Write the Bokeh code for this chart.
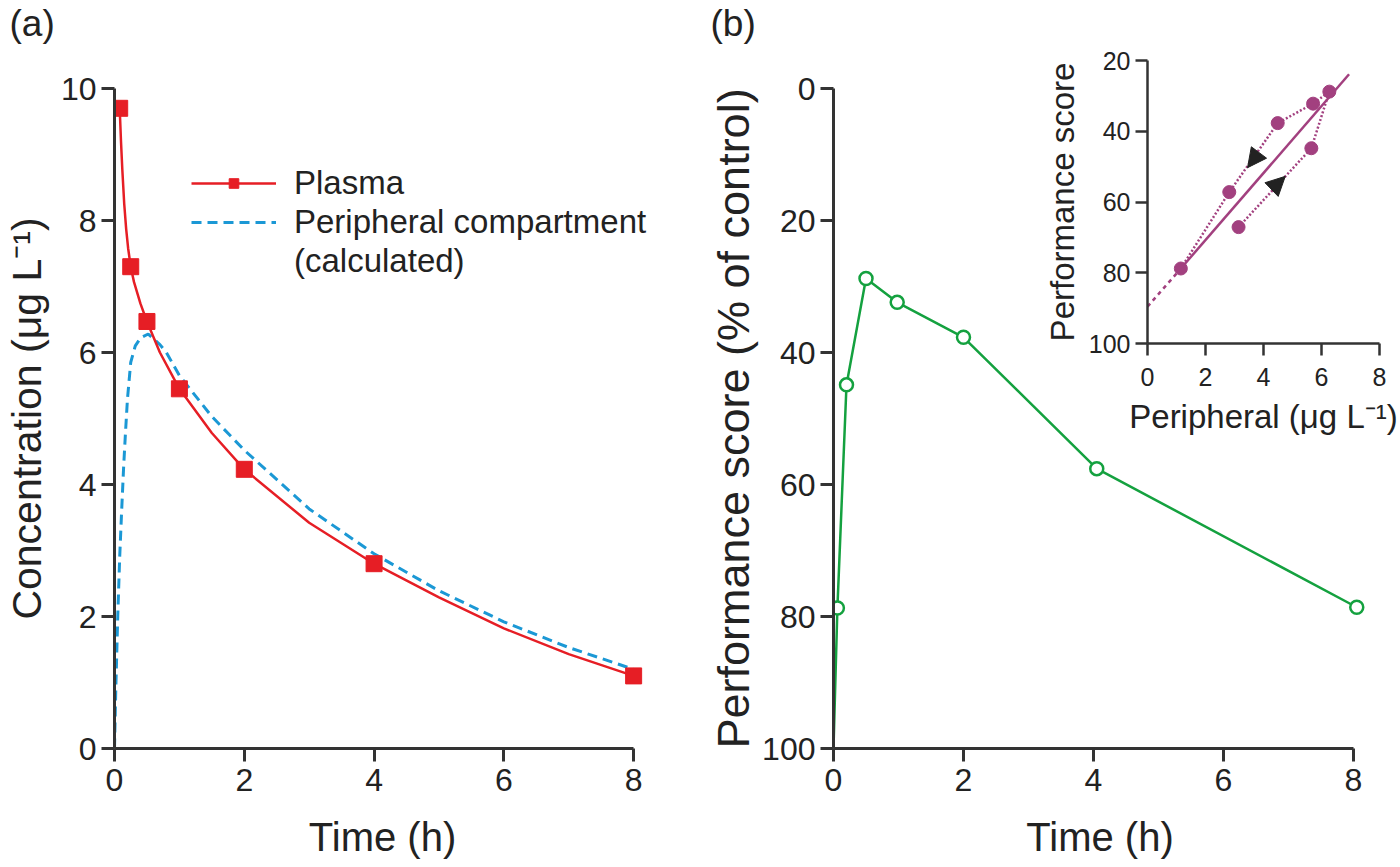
from bokeh.plotting import figure
from bokeh.layouts import row
from bokeh.models import (Range1d, FixedTicker, Legend, LegendItem, Title,
                          Arrow, NormalHead, ColumnDataSource)
from bokeh.embed import file_html
from bokeh.resources import INLINE

# ---------------- data ----------------
# Panel (a): plasma concentration (measured points)
plasma_t = [0.08, 0.25, 0.5, 1.0, 2.0, 4.0, 8.0]
plasma_c = [9.7, 7.3, 6.47, 5.45, 4.23, 2.8, 1.1]
# smooth plasma curve
plasma_curve_t = [0.08, 0.1, 0.12, 0.15, 0.18, 0.21, 0.25, 0.3, 0.4, 0.5, 0.7, 1.0, 1.5, 2.0, 3.0, 4.0, 5.0, 6.0, 7.0, 8.0]
plasma_curve_c = [9.7, 9.2, 8.78, 8.25, 7.87, 7.58, 7.3, 7.07, 6.74, 6.47, 6.0, 5.45, 4.78, 4.23, 3.42, 2.8, 2.29, 1.82, 1.43, 1.1]
# peripheral compartment (calculated) curve
periph_t = [0.0, 0.02, 0.05, 0.08, 0.11, 0.14, 0.17, 0.2, 0.25, 0.32, 0.4, 0.52, 0.7, 0.8, 1.0, 1.5, 2.0, 3.0, 4.0, 5.0, 6.0, 7.0, 8.0]
periph_c = [0.0, 0.9, 2.0, 2.9, 3.6, 4.25, 4.8, 5.3, 5.85, 6.1, 6.22, 6.28, 6.12, 6.0, 5.65, 5.03, 4.52, 3.63, 2.95, 2.39, 1.92, 1.53, 1.2]

# Panel (b): performance score
perf_line_t = [0.0, 0.06, 0.2, 0.5, 0.98, 2.0, 4.05, 8.05]
perf_line_s = [100, 78.7, 44.9, 28.8, 32.4, 37.7, 57.6, 78.6]
perf_t = [0.06, 0.2, 0.5, 0.98, 2.0, 4.05, 8.05]
perf_s = [78.7, 44.9, 28.8, 32.4, 37.7, 57.6, 78.6]

# Inset: performance vs peripheral concentration (time order)
ins_x = [3.14, 5.65, 6.27, 5.71, 4.49, 2.82, 1.15]
ins_y = [67.1, 44.8, 28.8, 32.2, 37.7, 57.2, 78.8]
fit_x = [1.15, 6.95]
fit_y = [78.8, 23.9]
ext_x = [0.0, 1.15]
ext_y = [89.6, 78.8]
arr_x0 = [4.1, 3.9]
arr_y0 = [43.2, 59.5]
arr_x1 = [3.45, 4.75]
arr_y1 = [50.3, 52.75]

x_ticks = [0, 2, 4, 6, 8]
conc_ticks = [0, 2, 4, 6, 8, 10]
perf_ticks = [0, 20, 40, 60, 80, 100]
ins_y_ticks = [20, 40, 60, 80, 100]

# ---------------- style ----------------
FONT = "Liberation Sans"
AX = "#333333"
TXT = "#222222"
RED = "#e61e25"
BLUE = "#1b98d5"
GREEN = "#14a13f"
PURPLE = "#a2407f"


def style_axes(p, xticks, yticks, xb, yb, tick_fs, xlab_fs, ylab_fs, lw=3, tick_out=13,
               x_lab_so=6, x_standoff=19, y_standoff=8):
    p.xgrid.visible = False
    p.ygrid.visible = False
    p.outline_line_color = None
    p.xaxis.ticker = FixedTicker(ticks=xticks)
    p.yaxis.ticker = FixedTicker(ticks=yticks)
    p.xaxis.bounds = xb
    p.yaxis.bounds = yb
    for ax in (p.xaxis[0], p.yaxis[0]):
        ax.axis_line_color = AX
        ax.axis_line_width = lw
        ax.major_tick_line_color = AX
        ax.major_tick_line_width = lw
        ax.major_tick_out = tick_out
        ax.major_tick_in = 0
        ax.minor_tick_line_color = None
        ax.major_label_text_font = FONT
        ax.major_label_text_font_size = tick_fs
        ax.major_label_text_color = TXT
        ax.major_label_standoff = 5
        ax.axis_label_text_font = FONT
        ax.axis_label_text_font_style = "normal"
        ax.axis_label_text_color = TXT
    p.xaxis[0].axis_label_text_font_size = xlab_fs
    p.yaxis[0].axis_label_text_font_size = ylab_fs
    p.xaxis[0].major_label_standoff = x_lab_so
    p.xaxis[0].axis_label_standoff = x_standoff
    p.yaxis[0].axis_label_standoff = y_standoff


def panel_title(text, offset):
    return Title(text=text, align="left", offset=offset, standoff=0,
                 text_font=FONT, text_font_size="37px", text_font_style="normal",
                 text_color=TXT)


def add_spacer(p):
    # empty title placed between the panel letter and the frame
    p.add_layout(Title(text=" ", text_font_size="10px", standoff=32), "above")


# ---------------- panel (a) ----------------
pa = figure(width=698, height=867, x_range=Range1d(0, 8.26), y_range=Range1d(0, 10),
            output_backend="svg", toolbar_location=None,
            min_border_left=113, min_border_right=48, min_border_top=88,
            min_border_bottom=119, title=panel_title("(a)", -105))
pa.frame_align = False
add_spacer(pa)
style_axes(pa, x_ticks, conc_ticks, (0, 8), (0, 10), "32px", "40px", "41px",
           x_lab_so=7, x_standoff=21, y_standoff=8)
pa.xaxis.axis_label = "Time (h)"
pa.yaxis.axis_label = "Concentration (\u03bcg L\u207b\u00b9)"

r_dash = pa.line(periph_t, periph_c, line_color=BLUE, line_width=3, line_dash="10 6")
r_line = pa.line(plasma_curve_t, plasma_curve_c, line_color=RED, line_width=2.5)
r_sq = pa.scatter(plasma_t, plasma_c, marker="square", size=16, fill_color=RED,
                  line_color=RED)

legend = Legend(items=[LegendItem(label="Plasma", renderers=[r_line, r_sq]),
                       LegendItem(label="Peripheral compartment", renderers=[r_dash]),
                       LegendItem(label="(calculated)", renderers=[])],
                location=(77, 468), glyph_width=85, glyph_height=24,
                label_text_font=FONT, label_text_font_size="33px",
                label_text_color=TXT, label_standoff=18, padding=0, margin=0,
                spacing=1, background_fill_alpha=0, border_line_color=None)
pa.add_layout(legend)

# ---------------- panel (b) ----------------
pb = figure(width=702, height=867, x_range=Range1d(0, 8.2), y_range=Range1d(100, 0),
            output_backend="svg", toolbar_location=None,
            min_border_left=135, min_border_right=34, min_border_top=88,
            min_border_bottom=119, title=panel_title("(b)", -123))
pb.frame_align = False
add_spacer(pb)
style_axes(pb, x_ticks, perf_ticks, (0, 8), (0, 100), "32px", "40px", "45px",
           x_lab_so=7, x_standoff=21, y_standoff=0)
pb.xaxis.axis_label = "Time (h)"
pb.yaxis.axis_label = "Performance score (% of control)"

pb.line(perf_line_t, perf_line_s, line_color=GREEN, line_width=2.5)
pb.scatter(perf_t, perf_s, marker="circle", size=13, fill_color="white",
           line_color=GREEN, line_width=2.5)

# ---------------- inset ----------------
pi = figure(width=360, height=400, x_range=Range1d(0, 8), y_range=Range1d(100, 20),
            output_backend="svg", toolbar_location=None,
            min_border_left=103, min_border_right=21, min_border_top=20,
            min_border_bottom=97, margin=(40, 0, 0, -360),
            background_fill_color=None, border_fill_color=None)
pi.frame_align = False
style_axes(pi, x_ticks, ins_y_ticks, (0, 8), (20, 100), "25px", "33px", "33px",
           lw=2.5, tick_out=12, x_lab_so=12, x_standoff=9, y_standoff=5)
pi.xaxis.axis_label = "Peripheral (\u03bcg L\u207b\u00b9)"
pi.yaxis.axis_label = "Performance score"

pi.line(ext_x, ext_y, line_color=PURPLE, line_width=2.5, line_dash="4 4")
pi.line(fit_x, fit_y, line_color=PURPLE, line_width=2.5)
pi.line(ins_x, ins_y, line_color=PURPLE, line_width=2.5, line_dash="2 2")
pi.scatter(ins_x, ins_y, marker="circle", size=13, fill_color=PURPLE,
           line_color=PURPLE)
arr_src = ColumnDataSource(dict(x0=arr_x0, y0=arr_y0, x1=arr_x1, y1=arr_y1))
pi.add_layout(Arrow(end=NormalHead(size=19, fill_color="#222222", line_color="#222222"),
                    x_start="x0", y_start="y0", x_end="x1", y_end="y1",
                    source=arr_src, line_alpha=0))

layout = row(pa, pb, pi)
open("out.html", "w").write(file_html(layout, INLINE))
